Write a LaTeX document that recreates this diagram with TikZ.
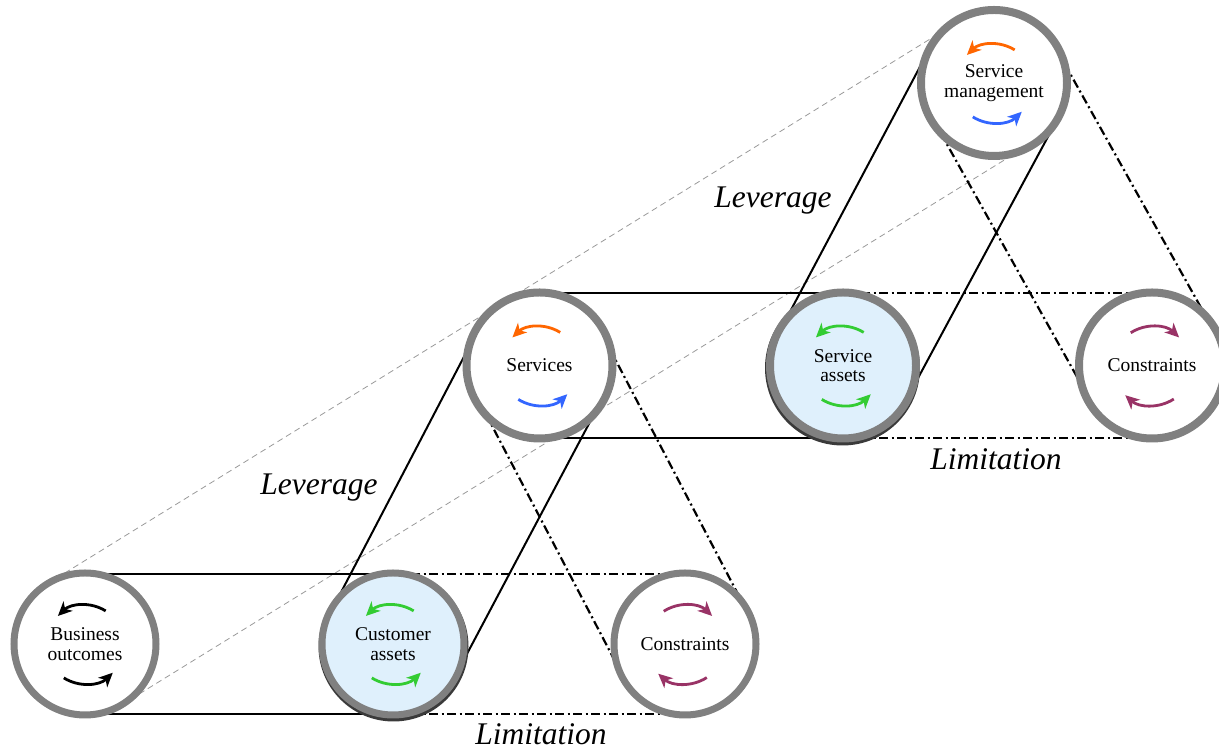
\documentclass[tikz,border=0pt]{standalone}
\usepackage{fontspec}
\setmainfont{Liberation Serif}
\usetikzlibrary{calc,arrows.meta,backgrounds}
\definecolor{ringgray}{HTML}{808080}
\definecolor{assetblue}{HTML}{DFF0FC}
\definecolor{orangeA}{HTML}{FF6600}
\definecolor{blueA}{HTML}{3366FF}
\definecolor{greenA}{HTML}{33CC33}
\definecolor{maroonA}{HTML}{993366}
\definecolor{shadowc}{HTML}{3A3A3A}
\tikzset{
  ring/.style={circle, draw=ringgray, fill=white, inner sep=0pt, align=center,
    font=\fontsize{19.5}{19.5}\selectfont},
  upring/.style={ring, minimum size=146pt, line width=8pt},
  lowring/.style={ring, minimum size=142pt, line width=7pt},
  belt/.style={line width=2pt, black},
  dashbelt/.style={belt, line width=2.2pt, dash pattern=on 9pt off 3.5pt on 2pt off 3.5pt},
  guide/.style={line width=0.8pt, black!40, dash pattern=on 6pt off 4pt},
  cyc/.style={line width=2.8pt, -{Stealth[length=14pt,width=13pt,inset=4pt]}},
  lab/.style={font=\fontsize{31.5}{31.5}\selectfont\itshape, anchor=base, inner sep=0pt},
}
\newcommand\beltpair[5]{%
  \draw[#1] ($(#2.center)!#3!90:(#4.center)$) -- ($(#4.center)!#5!-90:(#2.center)$);
  \draw[#1] ($(#2.center)!#3!-90:(#4.center)$) -- ($(#4.center)!#5!90:(#2.center)$);
}
\newcommand\turnpair[3]{%
  \draw[cyc,#2] ($(#1.center)+(58:39)$) arc (58:134:39);
  \draw[cyc,#3] ($(#1.center)+(238:40)$) arc (238:314:40);
}
\newcommand\turnrev[2]{%
  \draw[cyc,#2] ($(#1.center)+(123:39)$) arc (123:46:39);
  \draw[cyc,#2] ($(#1.center)+(303:40)$) arc (303:228:40);
}
\begin{document}
\begin{tikzpicture}[x=1pt,y=1pt]
\useasboundingbox (0,0) rectangle (1219,751);

% circles
\node[lowring] (BO) at (85,107) {Business\\outcomes};
\node[lowring, fill=assetblue] (CA) at (393,107) {Customer\\assets};
\node[lowring] (C1) at (685,107) {Constraints};
\node[upring] (S) at (539.5,385.5) {Services};
\node[upring, fill=assetblue] (SA) at (843,385.5) {Service\\assets};
\node[upring] (C2) at (1152,385.5) {Constraints};
\node[upring] (SM) at (994,668) {Service\\management};

% rotating arrows
\turnpair{BO}{black}{black}
\turnpair{CA}{greenA}{greenA}
\turnpair{S}{orangeA}{blueA}
\turnpair{SA}{greenA}{greenA}
\turnpair{SM}{orangeA}{blueA}
\turnrev{C1}{maroonA}
\turnrev{C2}{maroonA}

% labels
\node[lab] (lev1) at (319,256) {Leverage};
\node[lab] (lev2) at (773,543) {Leverage};
\node[lab] (lim1) at (541,6) {Limitation};
\node[lab] (lim2) at (996,281) {Limitation};

\begin{pgfonlayer}{background}
  \beltpair{guide}{BO}{71pt}{SM}{71pt}
  \beltpair{belt}{BO}{70pt}{CA}{70pt}
  \beltpair{dashbelt}{CA}{70pt}{C1}{70pt}
  \beltpair{belt}{S}{72.5pt}{SA}{72.5pt}
  \beltpair{dashbelt}{SA}{72.5pt}{C2}{72.5pt}
  \beltpair{belt}{S}{71pt}{CA}{70pt}
  \beltpair{dashbelt}{S}{70pt}{C1}{70pt}
  \beltpair{belt}{SM}{73pt}{SA}{72pt}
  \beltpair{dashbelt}{SM}{71pt}{C2}{71pt}
  \fill[shadowc] ($(CA.center)+(0.5,-2.5)$) circle (75);
  \fill[shadowc] ($(SA.center)+(-0.5,-2.5)$) circle (77.5);
\end{pgfonlayer}
\end{tikzpicture}
\end{document}
